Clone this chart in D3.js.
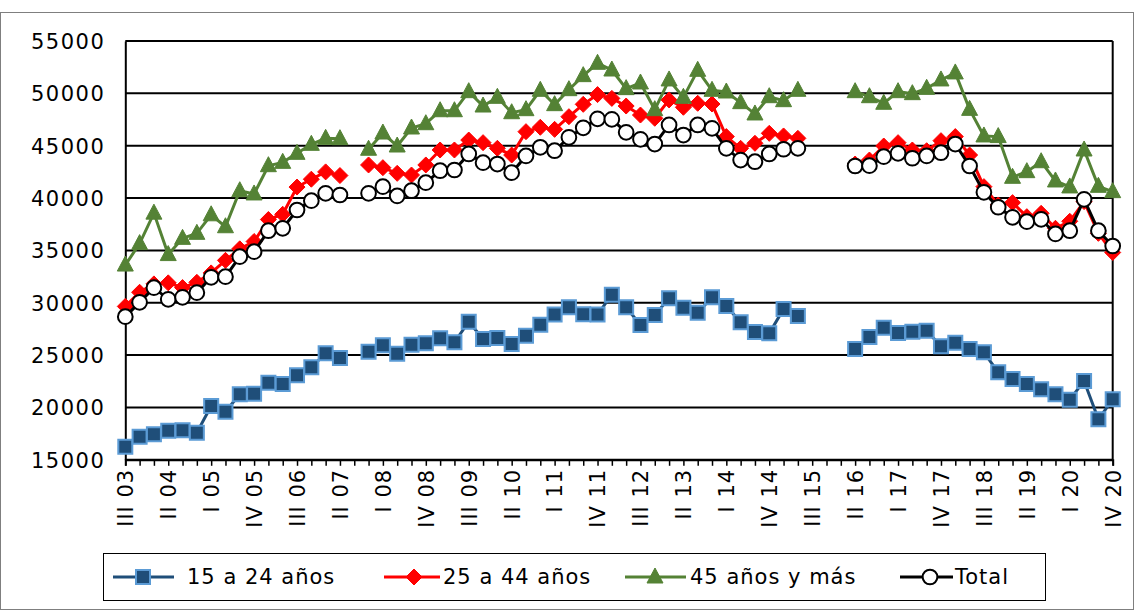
<!DOCTYPE html>
<html>
<head>
<meta charset="utf-8">
<script src="https://cdn.jsdelivr.net/npm/d3@7"></script>
<style>
  body { margin: 0; background: #fff; }
  svg text { font-family: "DejaVu Sans", sans-serif; fill: #000; }
</style>
</head>
<body>
<div id="chart"></div>
<script>
// Quarters III 03 .. IV 20 (70 quarters)
const romans = ["I", "II", "III", "IV"];
const quarters = [];
for (let y = 2003; y <= 2020; y++) {
  for (let q = 1; q <= 4; q++) {
    if (y === 2003 && q < 3) continue;
    quarters.push(romans[q - 1] + " " + String(y % 100).padStart(2, "0"));
  }
}

const yTicks = [15000, 20000, 25000, 30000, 35000, 40000, 45000, 50000, 55000];

const young = [16250, 17200, 17430, 17780, 17820, 17590, 20140, 19600, 21260, 21310,
  22360, 22240, 23070, 23830, 25170, 24720, null, 25330, 25940, 25130,
  25990, 26130, 26600, 26220, 28190, 26540, 26630, 26060, 26850, 27900,
  28870, 29570, 28900, 28870, 30770, 29570, 27870, 28830, 30420, 29530,
  29050, 30520, 29690, 28130, 27200, 27080, 29400, 28730, null, null,
  null, 25580, 26730, 27620, 27110, 27240, 27330, 25840, 26190, 25580,
  25270, 23360, 22720, 22240, 21730, 21250, 20740, 22530, 18870, 20780];

const middle = [29650, 31000, 31800, 31900, 31450, 31950, 32850, 34050, 35150, 35850,
  37950, 38450, 41050, 41800, 42500, 42150, null, 43160, 42900, 42360,
  42200, 43160, 44590, 44590, 45540, 45290, 44750, 44110, 46340, 46760,
  46560, 47770, 48950, 49880, 49520, 48790, 47930, 47620, 49370, 48670,
  49050, 48980, 45870, 44750, 45230, 46180, 45930, 45700, null, null,
  null, 43250, 43630, 44970, 45290, 44590, 44520, 45480, 45870, 44110,
  41090, 39340, 39560, 38220, 38540, 37110, 37780, 39660, 36630, 34800];

const older = [33600, 35650, 38560, 34600, 36150, 36630, 38400, 37260, 40700, 40390,
  43090, 43410, 44270, 45130, 45700, 45670, null, 44660, 46210, 44970,
  46690, 47100, 48340, 48340, 50160, 48790, 49620, 48150, 48440, 50290,
  48920, 50350, 51690, 52870, 52230, 50450, 50990, 48440, 51280, 49620,
  52200, 50290, 50130, 49110, 48030, 49680, 49300, 50290, null, null,
  null, 50160, 49680, 49050, 50160, 49970, 50480, 51280, 51950, 48470,
  45930, 45870, 41980, 42520, 43470, 41630, 41060, 44590, 41120, 40610];

const total = [28670, 30040, 31440, 30330, 30520, 30960, 32430, 32490, 34400, 34880,
  36880, 37110, 38860, 39750, 40450, 40290, null, 40450, 41090, 40200,
  40700, 41470, 42610, 42680, 44210, 43380, 43250, 42420, 44020, 44850,
  44520, 45800, 46710, 47570, 47520, 46280, 45610, 45160, 46980, 46020,
  46980, 46660, 44750, 43630, 43470, 44210, 44660, 44750, null, null,
  null, 43060, 43090, 43950, 44270, 43800, 44020, 44330, 45160, 43060,
  40550, 39120, 38160, 37740, 37970, 36570, 36880, 39880, 36880, 35420];

const seriesNames = ["15 a 24 años", "25 a 44 años", "45 años y más", "Total"];

const width = 1134, height = 610;

const svg = d3.select("#chart").append("svg")
  .attr("width", width)
  .attr("height", height);

// outer frame
svg.append("rect")
  .attr("x", 0.5).attr("y", 12.5)
  .attr("width", width - 1).attr("height", height - 13)
  .attr("fill", "none").attr("stroke", "#7f7f7f").attr("stroke-width", 1);

const x = d3.scalePoint().domain(quarters).range([125.3, 1112.7]);
const y = d3.scaleLinear().domain([15000, 55000]).range([459.8, 41]);

// grid
svg.append("g")
  .selectAll("line")
  .data(yTicks)
  .join("line")
  .attr("x1", x.range()[0]).attr("x2", x.range()[1])
  .attr("y1", d => y(d)).attr("y2", d => y(d))
  .attr("stroke", "#000").attr("stroke-width", 2);

// right border
svg.append("line")
  .attr("x1", x.range()[1]).attr("x2", x.range()[1])
  .attr("y1", y(55000)).attr("y2", y(15000))
  .attr("stroke", "#000").attr("stroke-width", 2);

// y axis
const yAxis = d3.axisLeft(y).tickValues(yTicks).tickSize(0).tickPadding(20).tickFormat(d => d);
const gY = svg.append("g").attr("transform", `translate(${x.range()[0]},0)`).call(yAxis);
gY.select(".domain").attr("stroke", "#000").attr("stroke-width", 2);
gY.selectAll("text")
  .style("font-size", "21px")
  .style("letter-spacing", "1.5px")
  .attr("dy", "0.35em");

// x axis
const xAxis = d3.axisBottom(x).tickSize(6).tickFormat((d, i) => i % 3 === 0 ? d : "");
const gX = svg.append("g").attr("transform", `translate(0,${y(15000)})`).call(xAxis);
gX.select(".domain").attr("stroke", "#000").attr("stroke-width", 2);
gX.selectAll(".tick line").attr("stroke", "#000").attr("stroke-width", 1.5);
gX.selectAll("text")
  .style("font-size", "21px")
  .style("letter-spacing", "1px")
  .attr("text-anchor", "end")
  .attr("transform", "rotate(-90)")
  .attr("x", -9)
  .attr("y", 0)
  .attr("dy", "0.35em");

const styles = [
  {line: "#1F4E79", marker: "square", fill: "#1F4E79", stroke: "#5B9BD5"},
  {line: "#FF0000", marker: "diamond", fill: "#FF0000", stroke: "#FF0000"},
  {line: "#548235", marker: "triangle", fill: "#548235", stroke: "#548235"},
  {line: "#000000", marker: "circle", fill: "#FFFFFF", stroke: "#000000"}
];
const allData = [young, middle, older, total];

function markerPath(type) {
  if (type === "square") return "M-7,-7H7V7H-7Z";
  if (type === "diamond") return "M0,-8L8,0L0,8L-8,0Z";
  if (type === "triangle") return "M0,-9L8,6H-8Z";
  return d3.symbol(d3.symbolCircle, 170)();
}

function drawMarker(g, s, cx, cy) {
  g.append("path")
    .attr("d", markerPath(s.marker))
    .attr("transform", `translate(${cx},${cy})`)
    .attr("fill", s.fill)
    .attr("stroke", s.stroke)
    .attr("stroke-width", s.marker === "square" || s.marker === "circle" ? 2 : 1);
}

const line = d3.line()
  .defined(d => d[1] != null)
  .x(d => x(d[0]))
  .y(d => y(d[1]));

allData.forEach((vals, si) => {
  const s = styles[si];
  const pts = quarters.map((q, i) => [q, vals[i]]);
  const g = svg.append("g");
  g.append("path")
    .datum(pts)
    .attr("fill", "none")
    .attr("stroke", s.line)
    .attr("stroke-width", 3)
    .attr("d", line);
  pts.filter(p => p[1] != null).forEach(p => drawMarker(g, s, x(p[0]), y(p[1])));
});

// legend
const legend = svg.append("g");
legend.append("rect")
  .attr("x", 103.5).attr("y", 553.5)
  .attr("width", 942).attr("height", 47)
  .attr("fill", "#fff").attr("stroke", "#000").attr("stroke-width", 1);

const legendPos = [
  {x1: 113, x2: 174, tx: 187},
  {x1: 384, x2: 440, tx: 443},
  {x1: 625, x2: 686, tx: 690},
  {x1: 900, x2: 953, tx: 955}
];
seriesNames.forEach((name, i) => {
  const p = legendPos[i];
  const s = styles[i];
  const cy = 577;
  legend.append("line")
    .attr("x1", p.x1).attr("x2", p.x2)
    .attr("y1", cy).attr("y2", cy)
    .attr("stroke", s.line).attr("stroke-width", 3);
  drawMarker(legend, s, p.x1 + 30, cy);
  legend.append("text")
    .attr("x", p.tx).attr("y", cy)
    .attr("dy", "0.35em")
    .style("font-size", "21px")
    .style("letter-spacing", "1px")
    .text(name);
});
</script>
</body>
</html>
